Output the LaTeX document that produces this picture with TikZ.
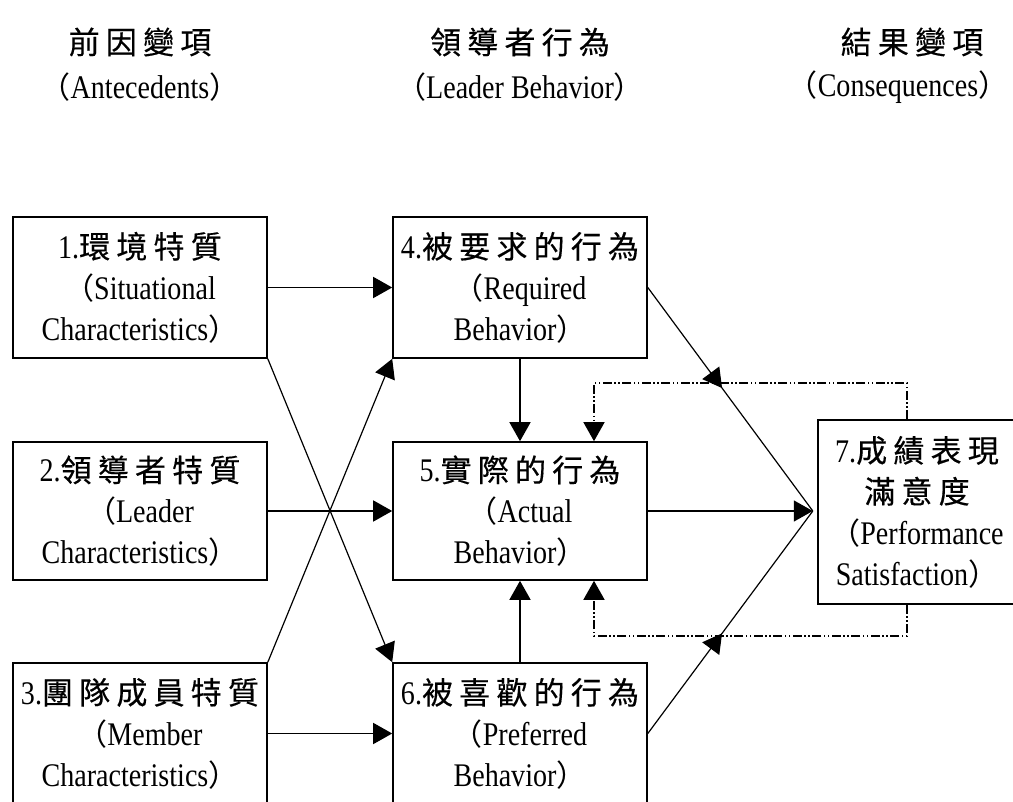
\documentclass[tikz,border=0pt]{standalone}
\usepackage{fontspec}
\setmainfont{Liberation Serif}[FakeStretch=0.85]
\newfontfamily\cjk{Noto Sans CJK TC}[LetterSpace=20,FakeBold=0.4]
\newfontfamily\cjkp{Noto Sans CJK TC}

% Chinese words, and full-width brackets
\newcommand\zh[1]{{\fontsize{31}{41}\selectfont\cjk #1}}
\newcommand\lpar{{\fontsize{30}{41}\selectfont\cjkp （}}
\newcommand\rpar{{\fontsize{30}{41}\selectfont\cjkp ）}}

\usetikzlibrary{arrows.meta,decorations.markings,calc}
\tikzset{
  txt/.style={font=\fontsize{33}{41}\selectfont, align=center, inner sep=0pt},
  box/.style={txt, draw, line width=1.6pt, minimum width=254pt, minimum height=141pt},
  tip/.style={-{Triangle[length=19pt,width=21pt]}},
  link/.style={tip, line width=1.5pt},
  slant/.style={line width=1.2pt},
  feedback/.style={tip, line width=1.4pt, dash pattern=on 9pt off 2.5pt on 1.5pt off 2.5pt on 1.5pt off 2.5pt},
  midtip/.style={postaction={decorate}, decoration={markings,
      mark=at position #1 with {\arrow{Triangle[length=19pt,width=21pt]}}}},
  midtip/.default=0.45
}

\begin{document}
\begin{tikzpicture}[x=1pt,y=-1pt]
  \clip (0,0) rectangle (1013,802);
  \fill[white] (0,0) rectangle (1013,802);

  % column headings
  \node[txt] (ha)  at (140,42) {\zh{前因變項}};
  \node[txt] (hae) at (140,87) {\lpar Antecedents\rpar};
  \node[txt] (hb)  at (520,42) {\zh{領導者行為}};
  \node[txt] (hbe) at (520,87) {\lpar Leader Behavior\rpar};
  \node[txt] (hc)  at (912,42) {\zh{結果變項}};
  \node[txt] (hce) at (898,87) {\lpar Consequences\rpar};

  % antecedents
  \node[box] (b1) at (140,287.5) {1.\zh{環境特質}\\\lpar Situational\\Characteristics\rpar};
  \node[box, minimum height=138pt] (b2) at (140,511) {2.\zh{領導者特質}\\\lpar Leader\\Characteristics\rpar};
  \node[box] (b3) at (140,733.5) {3.\zh{團隊成員特質}\\\lpar Member\\Characteristics\rpar};

  % leader behaviour
  \node[box] (b4) at (520,287.5) {4.\zh{被要求的行為}\\\lpar Required\\Behavior\rpar};
  \node[box, minimum height=138pt] (b5) at (520,511) {5.\zh{實際的行為}\\\lpar Actual\\Behavior\rpar};
  \node[box] (b6) at (520,733.5) {6.\zh{被喜歡的行為}\\\lpar Preferred\\Behavior\rpar};

  % consequences
  \node[box, minimum width=198pt, minimum height=184pt] (b7) at (917,512)
    {7.\zh{成績表現}\\\zh{滿意度}\\\lpar Performance\\Satisfaction\rpar};

  % meeting point in front of box 7
  \coordinate (m) at ($(b5.east)+(165,0)$);

  % straight links
  \draw[link] (b1.east) -- (b4.west);
  \draw[link] (b2.east) -- (b5.west);
  \draw[link] (b3.east) -- (b6.west);
  \draw[link] (b4.south) -- (b5.north);
  \draw[link] (b6.north) -- (b5.south);
  \draw[link] (b5.east) -- (m);

  % crossing links
  \draw[slant, tip] (b1.south east) -- (b6.north west);
  \draw[slant, tip] (b3.north east) -- (b4.south west);

  % links converging on the meeting point
  \draw[slant, midtip=0.45] (b4.east) -- (m);
  \draw[slant, midtip=0.45] (b6.east) -- (m);

  % feedback loops from box 7
  \coordinate (t1) at (907,383);
  \coordinate (t2) at (594,383);
  \coordinate (u1) at (907,636);
  \coordinate (u2) at (594,636);
  \draw[feedback] (t1 |- b7.north) -- (t1) -- (t2) -- (t2 |- b5.north);
  \draw[feedback] (u1 |- b7.south) -- (u1) -- (u2) -- (u2 |- b5.south);
\end{tikzpicture}
\end{document}
